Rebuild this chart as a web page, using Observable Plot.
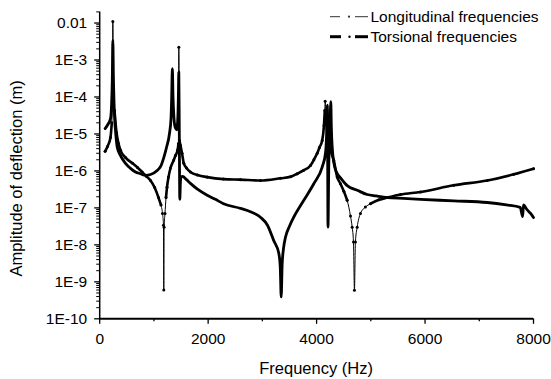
<!DOCTYPE html>
<html><head><meta charset="utf-8">
<script src="https://cdn.jsdelivr.net/npm/d3@7"></script>
<script src="https://cdn.jsdelivr.net/npm/@observablehq/plot@0.6"></script>
<style>
html,body{margin:0;padding:0;background:#fff;}
#wrap{position:relative;width:551px;height:379px;font-family:"Liberation Sans",Arial,sans-serif;color:#000;}
#overlay{position:absolute;left:0;top:0;pointer-events:none;}
</style></head><body><div id="wrap"></div>
<script>
// ---- data ----
const longFreq = [100,144,199,223,236,242,254,273,310,347,384,476,605,697,784,863,937,1011,1084,1130,1158,1176,1182,1188,1204,1223,1241,1269,1306,1361,1398,1435,1453,1459,1471,1490,1518,1551,1601,1674,1803,1982,2283,2596,2965,3334,3519,3642,3758,3887,3950,4011,4053,4103,4136,4151,4158,4173,4201,4256,4317,4380,4440,4502,4564,4625,4656,4680,4698,4716,4748,4809,4900,4994,5150,5307,5547,5916,6530,7146,7637,8000];
const longAmp  = [3.4e-6,4.6e-6,8e-6,2e-5,8e-5,1.1e-2,1.5e-4,4.3e-5,1.1e-5,5.5e-6,3.6e-6,2.3e-6,1.6e-6,1.24e-6,9.3e-7,7.1e-7,5.5e-7,3.6e-7,1.9e-7,1.2e-7,7.1e-8,3.4e-8,6e-10,3e-8,7.1e-8,1.9e-7,3.6e-7,6.8e-7,1.2e-6,1.9e-6,2.6e-6,3.6e-6,5.5e-6,2.2e-3,6.6e-6,4.9e-6,3e-6,1.6e-6,1.2e-6,9.3e-7,7.8e-7,6.8e-7,6e-7,5.8e-7,5.5e-7,6.3e-7,6.9e-7,8.4e-7,1.03e-6,1.4e-6,2e-6,3e-6,4.3e-6,6.6e-6,1.7e-5,4.3e-5,7.7e-5,3.2e-5,9e-6,3.6e-6,1.9e-6,6.8e-7,4.5e-7,2.8e-7,1.6e-7,6e-8,3e-8,1.2e-8,5.9e-10,1.2e-8,3e-8,7.1e-8,1.05e-7,1.3e-7,1.65e-7,1.9e-7,2.3e-7,2.7e-7,4.1e-7,5.5e-7,8.1e-7,1.15e-6];
const torsFreq = [100,150,199,218,232,242,254,263,278,291,323,384,476,568,660,752,845,937,1060,1121,1182,1232,1287,1315,1326,1340,1352,1368,1392,1420,1442,1452,1459,1468,1477,1490,1503,1527,1601,1674,1803,1982,2135,2283,2596,2780,2965,3094,3210,3303,3330,3347,3365,3390,3426,3500,3579,3764,3948,4103,4164,4185,4200,4210,4225,4245,4262,4272,4290,4320,4370,4440,4564,4750,4933,5100,5307,5600,5916,6530,7146,7500,7755,7800,7815,7880,7950,8000];
const torsAmp  = [1.4e-5,1.8e-5,2.6e-5,5.8e-5,2.8e-4,3.4e-3,2.8e-4,8e-5,2.3e-5,1.24e-5,4.4e-6,2.6e-6,1.6e-6,1.17e-6,9.3e-7,8.4e-7,7.6e-7,8e-7,1.03e-6,1.3e-6,2.3e-6,4.3e-6,1.03e-5,2.6e-5,8e-5,5.8e-4,1e-4,3e-5,1.5e-5,1.3e-5,3e-5,1.2e-4,4.7e-4,1e-5,1.7e-7,5.5e-7,6.8e-7,7.1e-7,5.8e-7,4.6e-7,3.2e-7,2.2e-7,1.7e-7,1.3e-7,9.7e-8,7.9e-8,5.6e-8,3.4e-8,1.3e-8,5.9e-9,2.5e-9,3.9e-10,3e-9,8e-9,1.6e-8,3.2e-8,5.6e-8,1.6e-7,4.5e-7,1.27e-6,3e-6,1e-5,6e-5,3e-8,1.5e-6,1e-5,7.5e-5,1.5e-5,4e-6,1.6e-6,9e-7,6.5e-7,4e-7,3e-7,2.3e-7,2.1e-7,1.9e-7,1.8e-7,1.7e-7,1.55e-7,1.4e-7,1.2e-7,1.03e-7,5.8e-8,1.2e-7,9e-8,7e-8,5.5e-8];
const seriesNames = ["Longitudinal frequencies","Torsional frequencies"];
const xTicks = [0,2000,4000,6000,8000];
const xTickLabels = ["0","2000","4000","6000","8000"];
const xMinorTicks = [1000,3000,5000,7000];
const yTicks = [1e-10,1e-9,1e-8,1e-7,1e-6,1e-5,1e-4,1e-3,1e-2];
const yTickLabels = ["1E-10","1E-9","1E-8","1E-7","1E-6","1E-5","1E-4","1E-3","0.01"];
const xTitle = "Frequency (Hz)";
const yTitle = "Amplitude of deflection (m)";

// ---- layout ----
const W = 551, H = 379;
const mL = 99.2, mR = 18, mT = 11.4, mB = 60.7;
const xDomain = [0, 8000], yDomain = [1e-10, 0.02];
const FONT = '"Liberation Sans", Arial, sans-serif';

const longData = longFreq.map((f, i) => ({f, a: longAmp[i]}));
const torsData = torsFreq.map((f, i) => ({f, a: torsAmp[i]}));
const yMinor = [];
for (let k = -10; k <= -3; k++) for (let m = 2; m <= 9; m++) yMinor.push(m * Math.pow(10, k));
yMinor.push(2e-2);

const chart = Plot.plot({
  width: W, height: H,
  marginLeft: mL, marginRight: mR, marginTop: mT, marginBottom: mB,
  style: {fontFamily: FONT, fontSize: "15.5px", color: "#000", background: "#fff", overflow: "visible"},
  x: {domain: xDomain, label: null},
  y: {type: "log", domain: yDomain, label: null},
  marks: [
    Plot.axisX({ticks: xMinorTicks, tickSize: 3, tickFormat: () => "", label: null, strokeWidth: 1.3}),
    Plot.axisX({ticks: xTicks, tickSize: 5.5, tickPadding: 8.5, label: null, strokeWidth: 1.3,
      tickFormat: d => xTickLabels[xTicks.indexOf(d)]}),
    Plot.axisY({ticks: yMinor, tickSize: 3, tickFormat: () => "", label: null, strokeWidth: 1}),
    Plot.axisY({ticks: yTicks, tickSize: 5, tickPadding: 7.5, label: null, strokeWidth: 1.3,
      tickFormat: d => yTickLabels[yTicks.indexOf(d)]}),
    Plot.ruleX([xDomain[0]], {stroke: "#000", strokeWidth: 1.5}),
    Plot.ruleY([yDomain[0]], {stroke: "#000", strokeWidth: 2}),
    Plot.line(torsData, {x: "f", y: "a", stroke: "#000", strokeWidth: 2.8, curve: "monotone-x"}),
    Plot.line(longData, {x: "f", y: "a", stroke: "#000", strokeWidth: 1, curve: "monotone-x"}),
    Plot.line(longData, {x: "f", y: d => (d.a >= 1.2e-7 && d.a <= 6e-5) ? d.a : NaN, stroke: "#000", strokeWidth: 2.6, curve: "monotone-x"}),
    Plot.dot(longData, {x: "f", y: "a", r: 1.5, fill: "#000", stroke: null})
  ]
});
const wrap = document.getElementById("wrap");
wrap.appendChild(chart);

// ---- titles and legend overlay ----
const ns = "http://www.w3.org/2000/svg";
const ov = document.createElementNS(ns, "svg");
ov.setAttribute("id", "overlay");
ov.setAttribute("width", W); ov.setAttribute("height", H);
ov.setAttribute("font-family", FONT);
function text(str, x, y, size, anchor, rot) {
  const t = document.createElementNS(ns, "text");
  t.textContent = str;
  t.setAttribute("x", x); t.setAttribute("y", y);
  t.setAttribute("font-size", size);
  t.setAttribute("text-anchor", anchor);
  t.setAttribute("fill", "#000");
  if (rot) t.setAttribute("transform", `rotate(${rot},${x},${y})`);
  ov.appendChild(t);
}
function seg(x1, x2, y, w, c) {
  const l = document.createElementNS(ns, "line");
  l.setAttribute("x1", x1); l.setAttribute("x2", x2);
  l.setAttribute("y1", y); l.setAttribute("y2", y);
  l.setAttribute("stroke", c); l.setAttribute("stroke-width", w);
  ov.appendChild(l);
}
function dot(x, y, r, c) {
  const d = document.createElementNS(ns, "circle");
  d.setAttribute("cx", x); d.setAttribute("cy", y); d.setAttribute("r", r);
  d.setAttribute("fill", c);
  ov.appendChild(d);
}
text(xTitle, (mL + W - mR) / 2, 374, 16.5, "middle");
text(yTitle, 21.7, 178.5, 16.5, "middle", -90);
// legend
const lx = 330, ly = [16.7, 36.7];
seg(lx, lx + 10, ly[0], 1, "#333"); dot(lx + 19, ly[0], 1.1, "#333"); seg(lx + 25, lx + 38, ly[0], 1, "#333");
seg(lx, lx + 11, ly[1], 3, "#000"); dot(lx + 19.5, ly[1], 1.2, "#000"); seg(lx + 25, lx + 38, ly[1], 3, "#000");
text(seriesNames[0], 370.5, ly[0] + 5.5, 15.5, "start");
text(seriesNames[1], 370.5, ly[1] + 5.5, 15.5, "start");
wrap.appendChild(ov);
</script>
</body></html>
